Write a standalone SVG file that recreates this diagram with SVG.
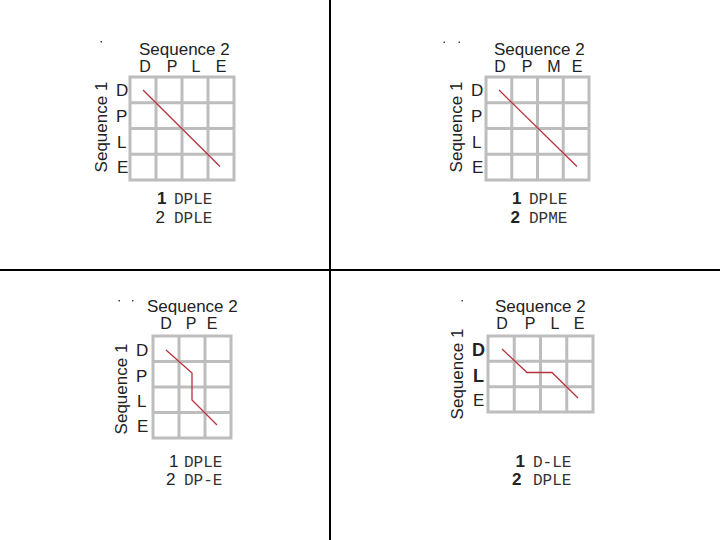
<svg xmlns="http://www.w3.org/2000/svg" width="720" height="540" viewBox="0 0 720 540">
<style>
.bg{fill:#fff}
.div{stroke:#000;stroke-width:2}
.grid{fill:none;stroke:#bdbdbd;stroke-width:3}
.t{font-family:"Liberation Sans",Arial,sans-serif;font-size:17px;fill:#222}
.seq{font-family:"Liberation Sans",Arial,sans-serif;font-size:17px;fill:#222}
.lab{font-family:"Liberation Sans",Arial,sans-serif;font-size:16px;fill:#222;text-anchor:middle}
.b{font-weight:bold}
.mono{font-family:"Liberation Mono","Courier New",monospace;font-size:16px;fill:#333}
.path{fill:none;stroke:#b8323e;stroke-width:1.3}
.speck{fill:#444}
</style>
<rect class="bg" x="0" y="0" width="720" height="540"/>
<g id="dividers">
<line class="div" x1="330" y1="0" x2="330" y2="540"/>
<line class="div" x1="0" y1="270" x2="720" y2="270"/>
</g>

<g id="q1">
<rect class="speck" x="100.5" y="41" width="1.5" height="1.5"/>
<text class="seq" x="139" y="55">Sequence 2</text>
<text class="lab" x="145" y="72">D</text>
<text class="lab" x="172" y="72">P</text>
<text class="lab" x="196" y="72">L</text>
<text class="lab" x="221" y="72">E</text>
<text class="seq" transform="translate(107,127) rotate(-90)" text-anchor="middle">Sequence 1</text>
<text class="t" x="116" y="96">D</text>
<text class="t" x="116" y="122">P</text>
<text class="t" x="117" y="148">L</text>
<text class="t" x="117" y="173">E</text>
<path class="grid" d="M130,77H234V180H130Z M156,77V180 M182,77V180 M208,77V180 M130,102.75H234 M130,128.5H234 M130,154.25H234"/>
<text class="t b" x="157" y="204">1</text>
<text class="mono" x="174" y="204">DPLE</text>
<text class="t" x="155.5" y="223">2</text>
<text class="mono" x="174" y="223">DPLE</text>
</g>

<g id="q2">
<rect class="speck" x="443.5" y="41.5" width="1.5" height="1.5"/>
<rect class="speck" x="458.5" y="41.5" width="1.5" height="1.5"/>
<text class="seq" x="494" y="55">Sequence 2</text>
<text class="lab" x="500" y="72">D</text>
<text class="lab" x="527" y="72">P</text>
<text class="lab" x="554" y="72">M</text>
<text class="lab" x="577" y="72">E</text>
<text class="seq" transform="translate(462,127) rotate(-90)" text-anchor="middle">Sequence 1</text>
<text class="t" x="471" y="96">D</text>
<text class="t" x="471" y="122">P</text>
<text class="t" x="472" y="148">L</text>
<text class="t" x="472" y="173">E</text>
<path class="grid" d="M486,77H589V180H486Z M511.75,77V180 M537.5,77V180 M563.25,77V180 M486,102.75H589 M486,128.5H589 M486,154.25H589"/>
<text class="t b" x="512" y="204">1</text>
<text class="mono" x="529" y="204">DPLE</text>
<text class="t b" x="510.5" y="223">2</text>
<text class="mono" x="529" y="223">DPME</text>
</g>

<g id="q3">
<rect class="speck" x="118.5" y="300" width="1.5" height="1.5"/>
<rect class="speck" x="132" y="300" width="1.5" height="1.5"/>
<text class="seq" x="147" y="312">Sequence 2</text>
<text class="lab" x="166" y="329">D</text>
<text class="lab" x="191" y="329">P</text>
<text class="lab" x="212" y="329">E</text>
<text class="seq" transform="translate(127,389) rotate(-90)" text-anchor="middle">Sequence 1</text>
<text class="t" x="136" y="356">D</text>
<text class="t" x="136" y="382">P</text>
<text class="t" x="137" y="407">L</text>
<text class="t" x="137" y="432">E</text>
<path class="grid" d="M153,336H231V438H153Z M179,336V438 M205,336V438 M153,361.5H231 M153,387H231 M153,412.5H231"/>
<text class="t" x="169" y="467">1</text>
<text class="mono" x="184" y="467">DPLE</text>
<text class="t" x="166" y="485">2</text>
<text class="mono" x="184" y="485">DP-E</text>
</g>

<g id="q4">
<rect class="speck" x="461.5" y="300" width="1.5" height="1.5"/>
<text class="seq" x="495" y="312">Sequence 2</text>
<text class="lab" x="502" y="329">D</text>
<text class="lab" x="530" y="329">P</text>
<text class="lab" x="555" y="329">L</text>
<text class="lab" x="579" y="329">E</text>
<text class="seq" transform="translate(463,374) rotate(-90)" text-anchor="middle">Sequence 1</text>
<text class="t b" x="472" y="356" style="font-size:18px">D</text>
<text class="t b" x="473" y="382" style="font-size:18px">L</text>
<text class="t" x="473" y="406">E</text>
<path class="grid" d="M488,336H593V412H488Z M514.25,336V412 M540.5,336V412 M566.75,336V412 M488,361.33H593 M488,386.67H593"/>
<text class="t b" x="515.5" y="467">1</text>
<text class="mono" x="533" y="467">D-LE</text>
<text class="t b" x="512" y="485">2</text>
<text class="mono" x="533" y="485">DPLE</text>
</g>

<g id="connectors">
<path class="path" d="M143,90L220,166.5"/>
<path class="path" d="M499,90L577,166.5"/>
<path class="path" d="M166,350L192,373V400L217,425"/>
<path class="path" d="M502,349L527,372.5H552L578,398"/>
</g>
</svg>
